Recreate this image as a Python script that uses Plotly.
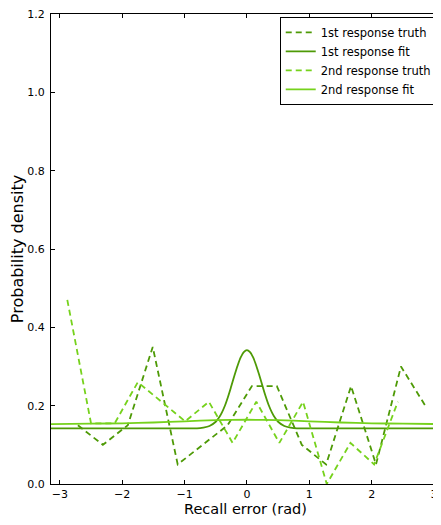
import plotly.graph_objects as go

# 1st response truth (histogram read at bin centres)
truth1_x = [-2.71, -2.31, -1.91, -1.51, -1.11, -0.71, -0.31, 0.08, 0.48, 0.88, 1.27, 1.67, 2.07, 2.47, 2.86]
truth1_y = [0.15, 0.10, 0.15, 0.35, 0.05, 0.10, 0.15, 0.25, 0.25, 0.10, 0.05, 0.25, 0.05, 0.30, 0.20]

# 2nd response truth
truth2_x = [-2.88, -2.50, -2.12, -1.75, -1.37, -0.99, -0.61, -0.23, 0.15, 0.52, 0.90, 1.28, 1.66, 2.04, 2.42]
truth2_y = [0.47, 0.155, 0.155, 0.26, 0.21, 0.16, 0.21, 0.105, 0.21, 0.105, 0.21, 0.0, 0.105, 0.05, 0.21]

# 1st response fit
fit1_x = [-3.1416, -2.0, -1.0, -0.8, -0.7, -0.6, -0.5, -0.45, -0.4, -0.35, -0.3, -0.25, -0.2, -0.15,
          -0.1, -0.05, 0.0, 0.05, 0.1, 0.15, 0.2, 0.25, 0.3, 0.35, 0.4, 0.45, 0.5, 0.6, 0.7, 0.8,
          1.0, 2.0, 3.1416]
fit1_y = [0.142, 0.142, 0.142, 0.142, 0.144, 0.148, 0.159, 0.169, 0.183, 0.201, 0.224, 0.250, 0.277, 0.302,
          0.323, 0.337, 0.342, 0.337, 0.323, 0.302, 0.277, 0.250, 0.224, 0.201, 0.183, 0.169, 0.159, 0.148, 0.144, 0.142,
          0.142, 0.142, 0.142]

# 2nd response fit
fit2_x = [-3.1416, -2.5, -2.0, -1.5, -1.0, -0.5, 0.0, 0.5, 1.0, 1.5, 2.0, 2.5, 3.1416]
fit2_y = [0.153, 0.154, 0.155, 0.157, 0.160, 0.163, 0.164, 0.163, 0.160, 0.157, 0.155, 0.154, 0.153]

x_ticks = [-3, -2, -1, 0, 1, 2, 3]
y_ticks = [0.0, 0.2, 0.4, 0.6, 0.8, 1.0, 1.2]

dark = "#4e9a06"
light = "#76d21c"

fig = go.Figure()
fig.add_trace(go.Scatter(x=truth1_x, y=truth1_y, mode="lines", name="1st response truth",
                         line=dict(color=dark, width=1.8, dash="6px,4px")))
fig.add_trace(go.Scatter(x=fit1_x, y=fit1_y, mode="lines", name="1st response fit",
                         line=dict(color=dark, width=1.8, shape="spline", smoothing=0.8)))
fig.add_trace(go.Scatter(x=truth2_x, y=truth2_y, mode="lines", name="2nd response truth",
                         line=dict(color=light, width=1.8, dash="6px,4px")))
fig.add_trace(go.Scatter(x=fit2_x, y=fit2_y, mode="lines", name="2nd response fit",
                         line=dict(color=light, width=1.8, shape="spline", smoothing=0.6)))

axis_common = dict(showline=True, linecolor="black", linewidth=1, mirror="ticks",
                   ticks="inside", ticklen=4, tickcolor="black", showgrid=False, zeroline=False,
                   ticklabeloverflow="allow",
                   tickfont=dict(family="DejaVu Sans", size=11, color="black"))

fig.update_layout(
    width=433, height=509,
    margin=dict(l=41, r=0, t=6, b=33),
    paper_bgcolor="white", plot_bgcolor="white",
    font=dict(family="DejaVu Sans", color="black"),
    xaxis=dict(range=[-3.1416, 3.096], tickvals=x_ticks,
               title=dict(text="Recall error (rad)", font=dict(size=14.5, family="DejaVu Sans"), standoff=4),
               ticklabelstandoff=0, **axis_common),
    yaxis=dict(range=[0, 1.2], tickvals=y_ticks, tickformat=".1f",
               title=dict(text="Probability density", font=dict(size=16, family="DejaVu Sans"), standoff=8),
               ticklabelstandoff=3, **axis_common),
    legend=dict(x=0.9916, y=0.994, xanchor="right", yanchor="top",
                bordercolor="black", borderwidth=1, bgcolor="white",
                font=dict(family="DejaVu Sans", size=11.5, color="black"),
                tracegroupgap=0, itemwidth=30),
    showlegend=True,
)

fig.write_html("out.html")
